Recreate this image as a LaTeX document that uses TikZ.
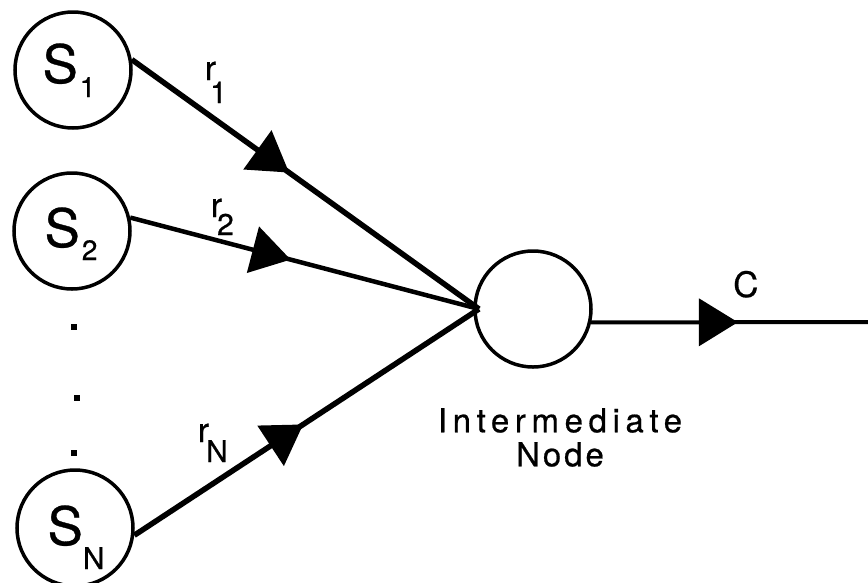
\documentclass[tikz,border=0pt]{standalone}
\usepackage{fontspec}
\setmainfont[FakeBold=0.6]{TeX Gyre Heros}
\usetikzlibrary{arrows.meta,decorations.markings}
\newcommand\srctext[6]{\smash{\makebox[0pt][l]{\hspace{#1}\raisebox{#2}{S\hspace{#3}\raisebox{#4}{\fontsize{#5}{#5}\selectfont #6}}}}}
\newcommand\ratetext[4]{r\hspace{#1}\raisebox{#2}{\fontsize{#3}{#3}\selectfont #4}}
\begin{document}
\begin{tikzpicture}[x=1pt,y=-1pt,
  src/.style={circle,draw,line width=3.5pt,minimum size=116pt,inner sep=0pt,
    font=\fontsize{53}{53}\selectfont},
  edge/.style={line width=#1,line join=round},
  midarrow/.style={postaction={decorate},decoration={markings,
    mark=at position #1 with {\arrow{Triangle[length=39pt,width=47pt]}}}},
  ratelbl/.style={anchor=base west,inner sep=0pt,font=\fontsize{34}{34}\selectfont},
  dot/.style={fill,rectangle,minimum size=6.5pt,inner sep=0pt}]
\useasboundingbox (0,0) rectangle (868,582);

\node[src] (S1) at (73,70) {\srctext{-30.5pt}{-13pt}{2pt}{-14pt}{28}{1}};
\node[src] (S2) at (72,231) {\srctext{-27.5pt}{-16pt}{2pt}{-13pt}{28}{2}};
\node[src] (SN) at (75,528) {\srctext{-27.5pt}{-17pt}{0pt}{-24pt}{30}{N}};
\node[src] (I) at (533,309) {};

\node[dot] (d1) at (74,327) {};
\node[dot] (d2) at (77,398) {};
\node[dot] (d3) at (74,453) {};

\coordinate (conv) at (479,309);
\coordinate (out) at (868,322);

\draw[edge=5.5pt,midarrow=0.453] (S1.10) -- (conv);
\draw[edge=4.5pt,midarrow=0.46] (S2.13) -- (conv);
\draw[edge=5.5pt,midarrow=0.49] (SN.-7) -- (conv);
\draw[edge=4pt,midarrow=0.53] (I.-13) -- (out);

\node[ratelbl] (r1) at (204.6,80) {\ratetext{-6pt}{-23pt}{30}{1}};
\node[ratelbl] (r2) at (210.6,217) {\ratetext{-5pt}{-18pt}{30}{2}};
\node[ratelbl] (rN) at (197.6,442) {\ratetext{-3pt}{-20pt}{30}{N}};
\node[anchor=base west,inner sep=0pt,font=\fontsize{35}{35}\selectfont] (c) at (733,297) {C};

\node[anchor=north,inner sep=0pt,align=center,font=\fontsize{33}{34}\selectfont] (lbl) at (560,408)
  {{\addfontfeature{LetterSpace=17}Intermediate}\\{\addfontfeature{LetterSpace=9}Node}};
\end{tikzpicture}
\end{document}
